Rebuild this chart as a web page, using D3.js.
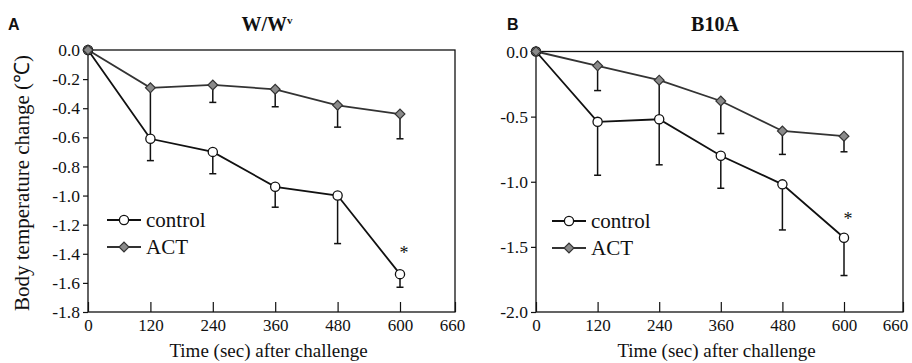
<!DOCTYPE html>
<html><head><meta charset="utf-8">
<script src="https://cdn.jsdelivr.net/npm/d3@7"></script>
<style>
body{margin:0;background:#fff;}
svg text{font-family:"Liberation Serif","Times New Roman",serif !important;fill:#111;}
svg text.sans{font-family:"Liberation Sans",Arial,sans-serif !important;}
</style></head>
<body><svg id="c" width="912" height="363"></svg>
<script>
// ---- data ----
const timePoints = [0, 120, 240, 360, 480, 600];
const xTickValues = [0, 120, 240, 360, 480, 600, 660];

const aControl = [0, -0.61, -0.70, -0.94, -1.00, -1.54];
const aControlSD = [0, 0.15, 0.15, 0.14, 0.33, 0.09];
const aACT = [0, -0.26, -0.24, -0.27, -0.38, -0.44];
const aACTSD = [0, 0.34, 0.12, 0.12, 0.15, 0.17];
const aYTicks = [0, -0.2, -0.4, -0.6, -0.8, -1.0, -1.2, -1.4, -1.6, -1.8];

const bControl = [0, -0.54, -0.52, -0.80, -1.02, -1.43];
const bControlSD = [0, 0.41, 0.35, 0.25, 0.35, 0.29];
const bACT = [0, -0.11, -0.22, -0.38, -0.61, -0.65];
const bACTSD = [0, 0.19, 0.28, 0.25, 0.18, 0.12];
const bYTicks = [0, -0.5, -1.0, -1.5, -2.0];

const seriesNames = ["control", "ACT"];
const xTitle = "Time (sec) after challenge";
const yTitle = "Body temperature change (℃)";

const svg = d3.select("#c");

function panel(cfg) {
  const g = svg.append("g");
  const x = d3.scaleLinear().domain([0, 600, 660]).range([cfg.left, cfg.x600, cfg.right]);
  const y = d3.scaleLinear().domain([0, cfg.ymin]).range([cfg.top, cfg.bottom]);

  // frame
  g.append("rect").attr("x", cfg.left).attr("y", cfg.top)
    .attr("width", cfg.right - cfg.left).attr("height", cfg.bottom - cfg.top)
    .attr("fill", "none").attr("stroke", "#111").attr("stroke-width", 1.3);

  // y axis
  const ya = g.append("g").attr("transform", `translate(${cfg.left},0)`)
    .call(d3.axisLeft(y).tickValues(cfg.yTicks).tickFormat(d => d.toFixed(1)).tickSize(5).tickPadding(3));
  ya.select(".domain").remove();
  ya.selectAll("line").attr("stroke", "#111").attr("stroke-width", 1.2);
  ya.selectAll("text").style("font-size", "17.5px").attr("fill", "#111");

  // x axis (ticks inward)
  const xa = g.append("g").attr("transform", `translate(0,${cfg.bottom})`)
    .call(d3.axisBottom(x).tickValues(xTickValues).tickFormat(d3.format("d")).tickSizeInner(-10).tickSizeOuter(0).tickPadding(7));
  xa.select(".domain").remove();
  xa.selectAll("line").attr("stroke", "#111").attr("stroke-width", 1.2);
  xa.selectAll("text").style("font-size", "17px").attr("fill", "#111")
    .attr("dx", d => d === 660 ? cfg.lastDx : 0);

  // titles
  g.append("text").attr("x", (cfg.left + cfg.right) / 2 - 3).attr("y", 357)
    .attr("text-anchor", "middle").style("font-size", "19px").text(xTitle);
  const t = g.append("text").attr("x", cfg.titleX).attr("y", 31)
    .attr("text-anchor", "middle").style("font-size", "20px").style("font-weight", "bold");
  t.append("tspan").text(cfg.title);
  if (cfg.sup) t.append("tspan").style("font-size", "11px").attr("dy", -7).text(cfg.sup);
  g.append("text").attr("class", "sans").attr("x", cfg.letterX).attr("y", 30)
    .style("font-size", "16px").style("font-weight", "bold").text(cfg.letter);

  const line = d3.line().x((d, i) => x(timePoints[i])).y(d => y(d));
  const sets = [
    {vals: cfg.control, sd: cfg.controlSD, stroke: "#111", kind: "circle"},
    {vals: cfg.act, sd: cfg.actSD, stroke: "#333", kind: "diamond"}
  ];

  // error bars (lower side)
  sets.forEach(s => {
    s.vals.forEach((v, i) => {
      if (s.sd[i] <= 0) return;
      const xx = x(timePoints[i]);
      g.append("line").attr("x1", xx).attr("x2", xx).attr("y1", y(v)).attr("y2", y(v - s.sd[i]))
        .attr("stroke", "#111").attr("stroke-width", 1.5);
      g.append("line").attr("x1", xx - 3.5).attr("x2", xx + 3.5).attr("y1", y(v - s.sd[i])).attr("y2", y(v - s.sd[i]))
        .attr("stroke", "#111").attr("stroke-width", 1.5);
    });
  });
  // lines
  sets.forEach(s => {
    g.append("path").attr("d", line(s.vals)).attr("fill", "none")
      .attr("stroke", s.stroke).attr("stroke-width", 1.8);
  });
  // markers
  function marker(kind, cx, cy) {
    if (kind === "circle") {
      g.append("circle").attr("cx", cx).attr("cy", cy).attr("r", 4.6)
        .attr("fill", "#fff").attr("stroke", "#111").attr("stroke-width", 1.3);
    } else {
      g.append("path").attr("d", d3.symbol().type(d3.symbolSquare).size(48)())
        .attr("transform", `translate(${cx},${cy}) rotate(45)`)
        .attr("fill", "#8a8a8a").attr("stroke", "#333").attr("stroke-width", 1.2);
    }
  }
  sets.forEach(s => s.vals.forEach((v, i) => marker(s.kind, x(timePoints[i]), y(v))));

  // significance
  g.append("text").attr("x", x(600) + 4).attr("y", y(cfg.control[5]) + cfg.starDy)
    .attr("text-anchor", "middle").style("font-size", "18px").text("*");

  // legend
  const lx = cfg.legX, ly = cfg.legY;
  sets.forEach((s, k) => {
    const yy = ly + k * 27;
    g.append("line").attr("x1", lx).attr("x2", lx + 34).attr("y1", yy).attr("y2", yy)
      .attr("stroke", s.stroke).attr("stroke-width", 1.8);
    marker(s.kind, lx + 17, yy);
    g.append("text").attr("x", lx + 39).attr("y", yy + 7).style("font-size", "21px").text(seriesNames[k]);
  });
}

panel({left: 88, x600: 400, right: 455, top: 50, bottom: 312, ymin: -1.8, yTicks: aYTicks,
  control: aControl, controlSD: aControlSD, act: aACT, actSD: aACTSD, lastDx: -3,
  title: "W/W", sup: "v", titleX: 267, letter: "A", letterX: 8, legX: 107, legY: 220, starDy: -15});
panel({left: 536, x600: 844, right: 903, top: 51.5, bottom: 312, ymin: -2.0, yTicks: bYTicks,
  control: bControl, controlSD: bControlSD, act: bACT, actSD: bACTSD, lastDx: -8,
  title: "B10A", titleX: 715, letter: "B", letterX: 507, legX: 552, legY: 221, starDy: -13});

// y axis title (panel A)
svg.append("text").attr("transform", "translate(29,183) rotate(-90)")
  .attr("text-anchor", "middle").style("font-size", "21px").text(yTitle);
</script></body></html>
